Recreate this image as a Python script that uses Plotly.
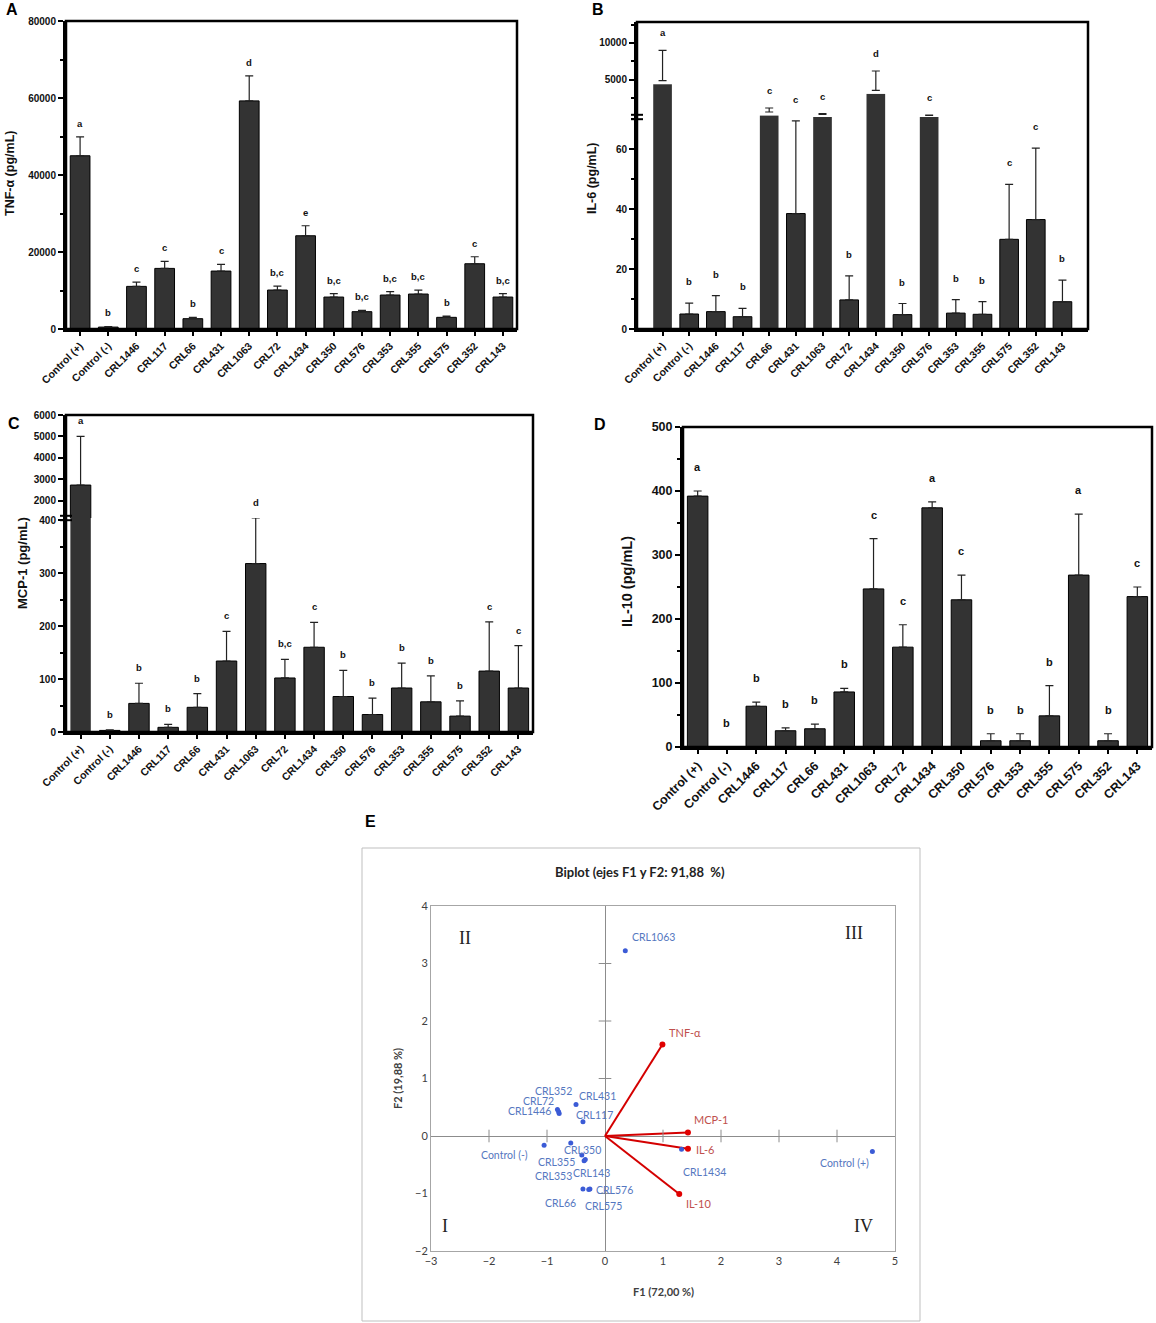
import plotly.graph_objects as go

W, H = 1156, 1323

categories = ["Control (+)", "Control (-)", "CRL1446", "CRL117", "CRL66", "CRL431", "CRL1063", "CRL72",
              "CRL1434", "CRL350", "CRL576", "CRL353", "CRL355", "CRL575", "CRL352", "CRL143"]

tnf_mean = [45000, 500, 11070, 15740, 2680, 15050, 59250, 10120, 24220, 8300, 4500, 8820, 9080, 3030, 16950, 8300]
tnf_sd = [4900, 150, 1130, 1820, 350, 1730, 6490, 1040, 2600, 870, 340, 870, 1040, 340, 1820, 870]
tnf_letters = ["a", "b", "c", "c", "b", "c", "d", "b,c", "e", "b,c", "b,c", "b,c", "b,c", "b", "c", "b,c"]

il6_mean = [4860, 5.0, 5.8, 4.1, 590, 38.5, 272, 9.7, 3545, 4.8, 136, 5.3, 4.9, 29.9, 36.5, 9.1]
il6_sd = [4140, 3.6, 5.3, 2.8, 550, 30.9, 90, 8.0, 2635, 3.7, 20, 4.5, 4.2, 18.3, 23.8, 7.2]
il6_letters = ["a", "b", "b", "b", "c", "c", "c", "b", "d", "b", "c", "b", "b", "c", "c", "b"]

mcp_mean = [2724, 3, 54, 8.8, 46.6, 134, 318, 102, 160, 67, 33, 83, 57, 30, 115, 83]
mcp_sd = [2276, 1, 38, 5.7, 25.8, 56, 86, 35, 47, 49.5, 31, 47, 49, 28.6, 93, 80]
mcp_letters = ["a", "b", "b", "b", "b", "c", "d", "b,c", "c", "b", "b", "b", "b", "b", "c", "c"]

il10_mean = [392, 0, 63.7, 25.4, 28.5, 86, 247, 156, 373.7, 230, 9.8, 9.8, 48.7, 268.6, 9.8, 235]
il10_sd = [8, 0, 6.3, 4.6, 7.2, 5.6, 78.6, 35, 9.3, 38.6, 10.9, 10.9, 47.3, 95.4, 10.9, 15]
il10_letters = ["a", "b", "b", "b", "b", "b", "c", "c", "a", "c", "b", "b", "b", "a", "b", "c"]

pca_names = ["Control (+)", "Control (-)", "CRL1446", "CRL117", "CRL66", "CRL431", "CRL1063", "CRL72",
             "CRL1434", "CRL350", "CRL576", "CRL353", "CRL355", "CRL575", "CRL352", "CRL143"]
pca_f1 = [4.61, -1.05, -0.79, -0.38, -0.38, -0.50, 0.35, -0.80, 1.32, -0.59, -0.26, -0.36, -0.40, -0.28, -0.82, -0.34]
pca_f2 = [-0.27, -0.16, 0.39, 0.25, -0.92, 0.55, 3.22, 0.42, -0.23, -0.12, -0.92, -0.43, -0.33, -0.93, 0.46, -0.41]

var_names = ["TNF-α", "MCP-1", "IL-6", "IL-10"]
var_f1 = [0.99, 1.43, 1.43, 1.28]
var_f2 = [1.59, 0.06, -0.22, -1.01]

# label offsets in pixels (style only): (dx, dy) with dy positive downward
pca_label_offsets = [(-28, 11), (-40, 10), (-30, -3), (12, -7), (-22, 14), (21, -8), (28, -14), (-20, -11),
                     (23, 23), (12, 7), (25, 1), (-31, 15), (-25, 7), (15, 17), (-4, -19), (6, 13)]
var_label_offsets = [(23, -12), (23, -13), (17, 1), (19, 9)]


def fx(x):
    return x / W


def fy(y):
    return 1 - y / H


BAR = "#333333"
FONT = "Liberation Sans"
TICK = 10
CAT = 10.5

fig = go.Figure()
annotations = []
shapes = []


def bar_trace(xa, ya, y, err, lo_max=None):
    lw = [1 if (lo_max is None or (v is not None and v <= lo_max)) else 0 for v in y]
    return go.Bar(
        x=categories, y=y, xaxis=xa, yaxis=ya, width=0.7,
        marker=dict(color=BAR, line=dict(color="#000000", width=lw)),
        error_y=dict(type="data", array=err, arrayminus=[0] * len(err), symmetric=False,
                     color="#222222", thickness=1.2, width=4),
        showlegend=False, hoverinfo="skip")


def letter_ann(xref, yref, cat, yval, txt, size, shift):
    annotations.append(dict(x=cat, y=yval, xref=xref, yref=yref, text="<b>" + txt + "</b>",
                            showarrow=False, yanchor="bottom", yshift=shift,
                            font=dict(family=FONT, size=size, color="#111111")))


def x_axis(dom, anchor, size):
    return dict(domain=dom, anchor=anchor, type="category", showline=True, linecolor="#000000", linewidth=2.5,
                ticks="outside", ticklen=4, tickwidth=1.5, tickcolor="#000000", tickangle=-45,
                tickfont=dict(family=FONT, size=size, color="#111111", weight="bold"), showgrid=False,
                zeroline=False, fixedrange=True, automargin=False)


def y_axis(dom, anchor, rng, size, **kw):
    d = dict(domain=dom, anchor=anchor, range=rng, showline=True, linecolor="#000000", linewidth=3,
             ticks="outside", ticklen=5, tickwidth=1.5, tickcolor="#000000", tickformat="d",
             tickfont=dict(family=FONT, size=size, color="#111111", weight="bold"), showgrid=False,
             zeroline=False, fixedrange=True, automargin=False)
    d.update(kw)
    return d


def frame(xref, y0, y1):
    shapes.append(dict(type="rect", xref=xref + " domain", yref="paper", x0=0, x1=1, y0=y0, y1=y1,
                       line=dict(color="#000000", width=2.5), layer="above"))


# ---------------- Panel A ----------------
fig.add_trace(bar_trace("x", "y", tnf_mean, tnf_sd))
for c, v, e, t in zip(categories, tnf_mean, tnf_sd, tnf_letters):
    letter_ann("x", "y", c, v + e, t, 9.5, 6)
frame("x", fy(329), fy(21))

# ---------------- Panel B (broken axis) ----------------
b_lo_max = 70.7
b_hi_rng = [-90, 12860]
b_lo_err = [e if v <= b_lo_max else 0 for v, e in zip(il6_mean, il6_sd)]
b_hi = [v if v > b_lo_max else None for v in il6_mean]
b_hi_err = [e if v > b_lo_max else 0 for v, e in zip(il6_mean, il6_sd)]
fig.add_trace(bar_trace("x2", "y2", il6_mean, b_lo_err, b_lo_max))
fig.add_trace(go.Bar(
    x=categories, y=b_hi, base=b_hi_rng[0] - 400, xaxis="x2", yaxis="y3", width=0.7,
    marker=dict(color=BAR, line=dict(color=BAR, width=0)),
    showlegend=False, hoverinfo="skip"))
fig.add_trace(go.Scatter(
    x=categories, y=b_hi, xaxis="x2", yaxis="y3", mode="markers", marker=dict(size=0, opacity=0),
    error_y=dict(type="data", array=b_hi_err, arrayminus=[0] * len(b_hi_err), symmetric=False,
                 color="#222222", thickness=1.2, width=4),
    showlegend=False, hoverinfo="skip"))
for c, v, e, t in zip(categories, il6_mean, il6_sd, il6_letters):
    letter_ann("x2", "y3" if v > b_lo_max else "y2", c, v + e, t, 9.5, 10 if v > b_lo_max else 14)
B_break = 117
frame("x2", fy(329), fy(22))

# ---------------- Panel C (broken axis) ----------------
c_lo_max = 404
c_hi_rng = [1184, 6000]
c_lo_err = [e if v <= c_lo_max else 0 for v, e in zip(mcp_mean, mcp_sd)]
c_hi = [v if v > c_lo_max else None for v in mcp_mean]
c_hi_err = [e if v > c_lo_max else 0 for v, e in zip(mcp_mean, mcp_sd)]
fig.add_trace(bar_trace("x3", "y4", mcp_mean, c_lo_err, c_lo_max))
fig.add_trace(go.Bar(
    x=categories, y=c_hi, xaxis="x3", yaxis="y5", width=0.7,
    marker=dict(color=BAR, line=dict(color="#000000", width=1)),
    error_y=dict(type="data", array=c_hi_err, arrayminus=[0] * len(c_hi_err), symmetric=False,
                 color="#222222", thickness=1.2, width=4),
    showlegend=False, hoverinfo="skip"))
for c, v, e, t in zip(categories, mcp_mean, mcp_sd, mcp_letters):
    letter_ann("x3", "y5" if v > c_lo_max else "y4", c, v + e, t, 9.5, 8)
C_break = 518
frame("x3", fy(732), fy(415))

# ---------------- Panel D ----------------
fig.add_trace(bar_trace("x4", "y6", il10_mean, il10_sd))
for c, v, e, t in zip(categories, il10_mean, il10_sd, il10_letters):
    letter_ann("x4", "y6", c, v + e, t, 11, 16)
frame("x4", fy(747), fy(427))

# ---------------- Panel E (biplot) ----------------
vx, vy = [], []
for a, b in zip(var_f1, var_f2):
    vx += [0, a, None]
    vy += [0, b, None]
fig.add_trace(go.Scatter(x=vx, y=vy, xaxis="x5", yaxis="y7", mode="lines",
                         line=dict(color="#d40000", width=2), showlegend=False, hoverinfo="skip"))
fig.add_trace(go.Scatter(x=var_f1, y=var_f2, xaxis="x5", yaxis="y7", mode="markers",
                         marker=dict(color="#e00000", size=6), showlegend=False, hoverinfo="skip"))
xt = [k for k in range(-2, 5) if k != 0]
yt = [k for k in range(-1, 4) if k != 0]
fig.add_trace(go.Scatter(x=xt, y=[0] * len(xt), xaxis="x5", yaxis="y7", mode="markers",
                         marker=dict(symbol="line-ns", size=9, line=dict(color="#8c8c8c", width=1)),
                         showlegend=False, hoverinfo="skip"))
fig.add_trace(go.Scatter(x=[0] * len(yt), y=yt, xaxis="x5", yaxis="y7", mode="markers",
                         marker=dict(symbol="line-ew", size=9, line=dict(color="#8c8c8c", width=1)),
                         showlegend=False, hoverinfo="skip"))
fig.add_trace(go.Scatter(x=pca_f1, y=pca_f2, xaxis="x5", yaxis="y7", mode="markers",
                         marker=dict(color="#3b5bd6", size=5), showlegend=False, hoverinfo="skip"))

for n, a, b, (dx, dy) in zip(pca_names, pca_f1, pca_f2, pca_label_offsets):
    annotations.append(dict(x=a, y=b, xref="x5", yref="y7", text=n, showarrow=False, xanchor="center",
                            yanchor="middle", xshift=dx, yshift=-dy,
                            font=dict(family="Lato", size=10.5, color="#5577c0")))
for n, a, b, (dx, dy) in zip(var_names, var_f1, var_f2, var_label_offsets):
    annotations.append(dict(x=a, y=b, xref="x5", yref="y7", text=n, showarrow=False, xanchor="center",
                            yanchor="middle", xshift=dx, yshift=-dy,
                            font=dict(family="Lato", size=11, color="#c0504d")))

for txt, x, y in [("II", -2.41, 3.44), ("III", 4.30, 3.53), ("I", -2.76, -1.57), ("IV", 4.45, -1.57)]:
    annotations.append(dict(x=x, y=y, xref="x5", yref="y7", text=txt, showarrow=False,
                            font=dict(family="Liberation Serif", size=18, color="#222222")))

shapes.append(dict(type="rect", xref="paper", yref="paper", x0=fx(362), x1=fx(920), y0=fy(1321), y1=fy(848),
                   line=dict(color="#bfbfbf", width=1)))

# break marks
for xb, yb in [(637, B_break), (66, C_break)]:
    for d in (-2.2, 2.2):
        shapes.append(dict(type="line", xref="paper", yref="paper", x0=fx(xb - 6), x1=fx(xb + 6),
                           y0=fy(yb + d), y1=fy(yb + d), line=dict(color="#000000", width=2)))

# panel letters
for txt, x, y in [("A", 12, 10), ("B", 598, 10), ("C", 14, 423), ("D", 600, 424), ("E", 370, 822)]:
    annotations.append(dict(x=fx(x), y=fy(y), xref="paper", yref="paper", text="<b>" + txt + "</b>",
                            xanchor="center", yanchor="middle",
                            showarrow=False, font=dict(family=FONT, size=16, color="#000000")))

# y axis titles
for txt, x, y, size in [("TNF-α (pg/mL)", 10, 174, 12.5), ("IL-6 (pg/mL)", 592, 178, 12.5),
                        ("MCP-1 (pg/mL)", 22, 563, 13), ("IL-10 (pg/mL)", 627, 582, 14.5)]:
    annotations.append(dict(x=fx(x), y=fy(y), xref="paper", yref="paper", text="<b>" + txt + "</b>",
                            xanchor="center", yanchor="middle",
                            textangle=-90, showarrow=False, font=dict(family=FONT, size=size, color="#111111")))

annotations.append(dict(x=fx(640), y=fy(872), xref="paper", yref="paper", xanchor="center", yanchor="middle",
                        text="<b>Biplot (ejes F1 y F2: 91,88  %)</b>", showarrow=False,
                        font=dict(family="Lato", size=13, color="#222222")))
annotations.append(dict(x=fx(663), y=fy(1291), xref="paper", yref="paper", xanchor="center", yanchor="middle",
                        text="<b>F1 (72,00 %)</b>",
                        showarrow=False, font=dict(family="Lato", size=11, color="#404040")))
annotations.append(dict(x=fx(397), y=fy(1079), xref="paper", yref="paper", xanchor="center", yanchor="middle",
                        text="<b>F2 (19,88 %)</b>",
                        textangle=-90, showarrow=False, font=dict(family="Lato", size=11, color="#404040")))

fig.update_layout(
    width=W, height=H, margin=dict(l=0, r=0, t=0, b=0, autoexpand=False), paper_bgcolor="white",
    plot_bgcolor="white", barmode="overlay", showlegend=False,
    xaxis=x_axis([fx(66), fx(517)], "y", CAT),
    yaxis=y_axis([fy(329), fy(21)], "x", [0, 80000], TICK, dtick=20000,
                 minor=dict(ticks="outside", ticklen=3, dtick=10000, tickcolor="#000000")),
    xaxis2=x_axis([fx(637), fx(1088)], "y2", CAT),
    yaxis2=y_axis([fy(329), fy(B_break)], "x2", [0, b_lo_max], TICK, dtick=20,
                  minor=dict(ticks="outside", ticklen=3, dtick=10, tickcolor="#000000")),
    yaxis3=y_axis([fy(B_break), fy(22)], "x2", b_hi_rng, TICK, tickvals=[5000, 10000],
                  minor=dict(ticks="outside", ticklen=3, tickvals=[2500, 7500, 12500], tickcolor="#000000")),
    xaxis3=x_axis([fx(66), fx(533)], "y4", CAT),
    yaxis4=y_axis([fy(732), fy(C_break)], "x3", [0, c_lo_max], TICK, tickvals=[0, 100, 200, 300, 400],
                  minor=dict(ticks="outside", ticklen=3, tickvals=[50, 150, 250, 350], tickcolor="#000000")),
    yaxis5=y_axis([fy(C_break), fy(415)], "x3", c_hi_rng, TICK, tickvals=[2000, 3000, 4000, 5000, 6000]),
    xaxis4=x_axis([fx(683), fx(1152)], "y6", 12.5),
    yaxis6=y_axis([fy(747), fy(427)], "x4", [0, 500], 12.5, dtick=100,
                  minor=dict(ticks="outside", ticklen=3, dtick=50, tickcolor="#000000")),
    xaxis5=dict(domain=[fx(431), fx(895)], anchor="y7", range=[-3, 5], dtick=1, showline=True, mirror=True,
                linecolor="#a6a6a6", linewidth=1, showgrid=False, zeroline=True, zerolinecolor="#8c8c8c",
                zerolinewidth=1, ticks="", tickfont=dict(family="Lato", size=11, color="#404040"),
                fixedrange=True, automargin=False),
    yaxis7=dict(domain=[fy(1251), fy(906)], anchor="x5", range=[-2, 4], dtick=1, showline=True, mirror=True,
                linecolor="#a6a6a6", linewidth=1, showgrid=False, zeroline=True, zerolinecolor="#8c8c8c",
                zerolinewidth=1, ticks="", tickfont=dict(family="Lato", size=11, color="#404040"),
                fixedrange=True, automargin=False),
    annotations=annotations, shapes=shapes,
)

fig.write_html("out.html", config={"displayModeBar": False},
               post_script="document.body.style.margin='0';")
